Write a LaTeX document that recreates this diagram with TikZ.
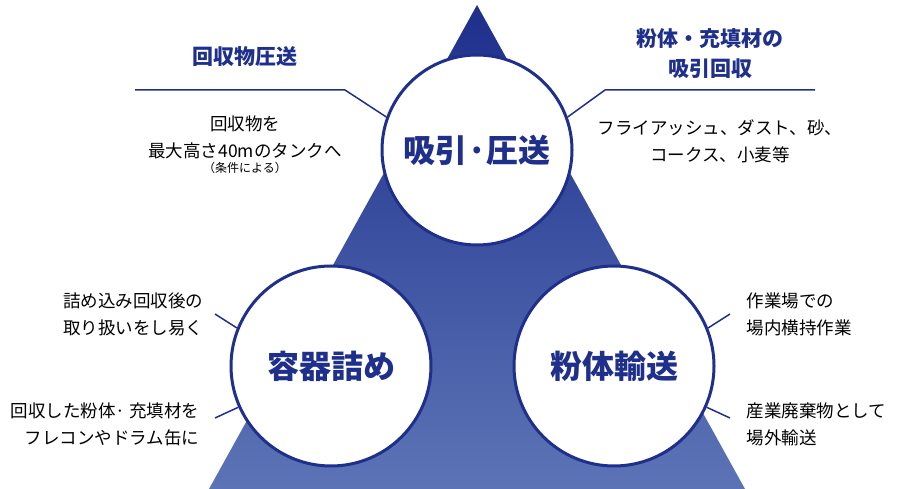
\documentclass[tikz,border=0pt]{standalone}
\usepackage{fontspec}
\setmainfont{Noto Sans CJK JP}
\usetikzlibrary{positioning}
\definecolor{navy}{HTML}{1E2F8C}
\definecolor{navylight}{HTML}{5C74B6}
\begin{document}
\begin{tikzpicture}[x=1pt,y=-1pt]

\tikzstyle{circ}=[circle,draw=navy,line width=3pt,fill=white,inner sep=0pt]
\tikzstyle{title}=[text=navy,font=\fontsize{32}{36}\selectfont\bfseries]
\tikzstyle{head}=[text=navy,font=\fontsize{21}{30}\selectfont\bfseries,align=center]
\tikzstyle{note}=[font=\fontsize{17.5}{27}\selectfont]
\tikzstyle{tick}=[navy,line width=1.5pt]

\useasboundingbox (0,0) rectangle (897,489);

\shade[top color=navy,bottom color=navylight] (477,5) -- (745,489) -- (209,489) -- cycle;

\node[circ,minimum size=190pt] (suction) at (477,150) {};
\node[circ,minimum size=200pt] (filling) at (331,366) {};
\node[circ,minimum size=200pt] (transport) at (614,366) {};
\node[title] at (suction) {吸引·圧送};
\node[title] at (filling) {容器詰め};
\node[title] at (transport) {粉体輸送};

\coordinate (l1) at (135,90);
\coordinate (l2) at (345,90);
\coordinate (r1) at (605,90);
\coordinate (r2) at (815,90);
\draw[tick] (l1) -- (l2) -- (suction.160);
\draw[tick] (suction.20) -- (r1) -- (r2);
\draw[tick] (filling.158) -- (215,314);
\draw[tick] (filling.204) -- (215,418);
\draw[tick] (transport.22) -- (730,314);
\draw[tick] (transport.-24) -- (730,418);

\node[head] (pressure) at (245,57) {回収物圧送};
\node[head] (recover) at (710,54) {粉体・充填材の\\吸引回収};

\node[note,align=center] (tank) at (245,137) {回収物を\\最大高さ40mのタンクへ};
\node[font=\fontsize{12}{14}\selectfont,below=-3pt of tank] (cond) {（条件による）};
\node[note,align=center] (dust) at (720,141) {フライアッシュ、ダスト、砂、\\コークス、小麦等};
\node[note,align=right,anchor=east] (easy) at (207,314) {詰め込み回収後の\\取り扱いをし易く};
\node[note,align=right,anchor=east] (bag) at (203,424) {回収した粉体· 充填材を\\フレコンやドラム缶に};
\node[note,align=left,anchor=west] (inside) at (743,314) {作業場での\\場内横持作業};
\node[note,align=left,anchor=west] (outside) at (743,424) {産業廃棄物として\\場外輸送};

\end{tikzpicture}
\end{document}
